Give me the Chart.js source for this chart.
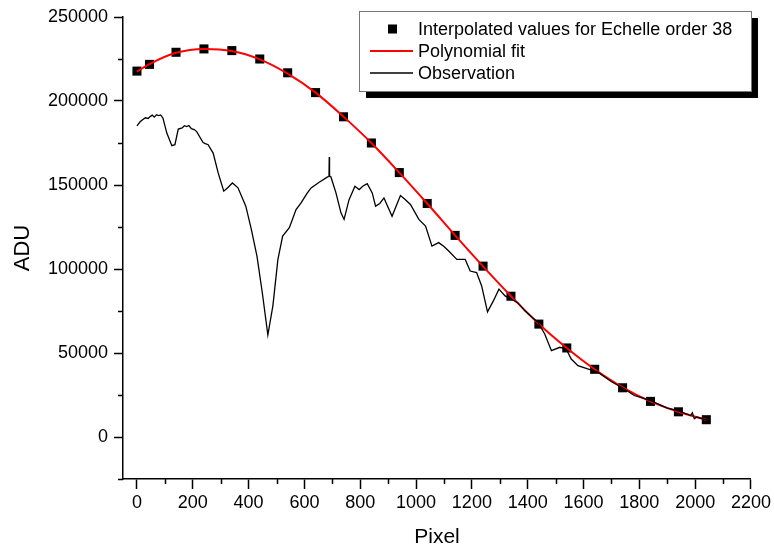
<!DOCTYPE html>
<html lang="en">
<head>
  <meta charset="utf-8">
  <title>Echelle order 38</title>
  <script src="https://cdn.jsdelivr.net/npm/chart.js@4.4.0/dist/chart.umd.min.js"></script>
  <style>
    body { margin: 0; background: #fff; }
  </style>
</head>
<body>
<canvas id="chart" width="774" height="554"></canvas>
<script>
// interpolated points (squares)
const sqX = [0, 45, 140, 240, 340, 440, 540, 640, 740, 840, 940, 1040, 1140, 1240, 1340, 1440, 1540, 1640, 1740, 1840, 1940, 2040];
const sqY = [217800, 221800, 229000, 231000, 230000, 225000, 216800, 205000, 190600, 175000, 157400, 139000, 120000, 101700, 83800, 67200, 53000, 40300, 29300, 21200, 15000, 10300];

// polynomial fit
const fitX = [0, 45, 140, 240, 340, 440, 540, 640, 740, 840, 940, 1040, 1140, 1240, 1340, 1440, 1540, 1640, 1740, 1840, 1940, 2045];
const fitY = [217500, 222000, 228700, 231000, 229800, 224800, 216300, 205000, 190700, 175000, 157400, 139000, 120000, 101600, 83900, 67300, 53000, 40300, 29600, 21200, 15000, 10000];

// observed spectrum
const obsX = [0, 12, 30, 40, 47, 55, 62, 70, 77, 85, 93, 107, 125, 136, 148, 162, 170, 178, 186, 195, 205, 214, 237, 245, 255, 273, 291, 311, 326, 342, 362, 390, 410, 430, 449, 469, 487, 505, 522, 546, 570, 588, 610, 624, 653, 683, 688, 689, 690, 695, 713, 731, 742, 760, 781, 796, 810, 825, 843, 855, 870, 885, 914, 944, 960, 980, 1010, 1034, 1057, 1081, 1100, 1117, 1146, 1176, 1194, 1217, 1235, 1256, 1277, 1297, 1319, 1342, 1365, 1390, 1437, 1461, 1485, 1515, 1538, 1556, 1580, 1615, 1651, 1699, 1746, 1782, 1841, 1900, 1935, 1984, 1990, 1997, 2006, 2036, 2049];
const obsY = [185200, 187800, 190000, 189600, 190700, 191600, 190400, 191800, 191300, 191700, 189800, 180900, 173400, 174000, 183300, 184000, 185300, 184800, 185400, 183500, 183000, 181800, 175300, 174600, 174000, 169000, 157200, 146300, 148500, 151200, 148300, 137400, 123500, 107700, 86000, 60700, 78100, 105700, 119600, 124600, 135400, 139400, 145200, 148300, 151600, 154800, 155000, 166700, 155500, 154800, 145300, 133400, 129500, 141300, 149200, 147300, 149400, 150800, 145300, 137400, 139000, 142300, 131400, 143700, 141500, 138400, 129500, 125500, 113600, 115700, 113400, 110700, 105700, 105700, 98800, 97900, 89900, 74500, 81000, 88000, 84000, 82000, 79800, 75100, 68200, 61300, 51400, 53400, 52400, 46400, 42500, 40500, 38600, 33000, 28600, 24700, 21700, 17200, 15800, 12800, 14400, 10900, 11900, 10400, 9800];

const xTicks = [0, 200, 400, 600, 800, 1000, 1200, 1400, 1600, 1800, 2000, 2200];
const xMinor = [100, 300, 500, 700, 900, 1100, 1300, 1500, 1700, 1900, 2100];
const yTicks = [0, 50000, 100000, 150000, 200000, 250000];
const yMinor = [-25000, 25000, 75000, 125000, 175000, 225000];

const labels = ['Interpolated values for Echelle order 38', 'Polynomial fit', 'Observation'];

function pts(xs, ys) {
  return xs.map(function (x, i) { return { x: x, y: ys[i] }; });
}

const FONT = 'Liberation Sans, Arial, sans-serif';

// minor tick marks, drawn from the scales
const minorTicks = {
  id: 'minorTicks',
  afterDraw(chart) {
    const ctx = chart.ctx, xs = chart.scales.x, ys = chart.scales.y;
    ctx.save();
    ctx.strokeStyle = '#000';
    ctx.lineWidth = 1.5;
    ctx.beginPath();
    xMinor.forEach(function (v) {
      const p = Math.round(xs.getPixelForValue(v)) + 0.5;
      ctx.moveTo(p, xs.top);
      ctx.lineTo(p, xs.top + 5);
    });
    yMinor.forEach(function (v) {
      const p = Math.round(ys.getPixelForValue(v)) + 0.5;
      ctx.moveTo(ys.right, p);
      ctx.lineTo(ys.right - 5, p);
    });
    ctx.stroke();
    ctx.restore();
  }
};

// boxed legend with drop shadow
const boxLegend = {
  id: 'boxLegend',
  afterDraw(chart) {
    const ctx = chart.ctx;
    const bx = 359, by = 11, bw = 392, bh = 80;
    ctx.save();
    ctx.fillStyle = '#000';
    ctx.fillRect(bx + 7, by + 7, bw, bh);
    ctx.fillStyle = '#fff';
    ctx.fillRect(bx, by, bw, bh);
    ctx.strokeStyle = '#777';
    ctx.lineWidth = 1;
    ctx.strokeRect(bx + 0.5, by + 0.5, bw, bh);

    ctx.font = '18px ' + FONT;
    ctx.textBaseline = 'middle';
    ctx.fillStyle = '#000';
    const rows = [29, 51, 73];
    ctx.fillRect(388, rows[0] - 4.5, 9, 9);
    ctx.strokeStyle = '#ff0000';
    ctx.lineWidth = 2;
    ctx.beginPath(); ctx.moveTo(370, rows[1]); ctx.lineTo(413, rows[1]); ctx.stroke();
    ctx.strokeStyle = '#000';
    ctx.lineWidth = 1.3;
    ctx.beginPath(); ctx.moveTo(370, rows[2]); ctx.lineTo(413, rows[2]); ctx.stroke();
    labels.forEach(function (t, i) {
      ctx.fillText(t, 418, rows[i] + 1);
    });
    ctx.restore();
  }
};

new Chart(document.getElementById('chart'), {
  type: 'scatter',
  data: {
    datasets: [
      {
        label: labels[2],
        data: pts(obsX, obsY),
        showLine: true,
        borderColor: '#000',
        borderWidth: 1.3,
        pointRadius: 0,
        tension: 0,
        order: 0
      },
      {
        label: labels[1],
        data: pts(fitX, fitY),
        showLine: true,
        borderColor: '#ff0000',
        borderWidth: 2,
        pointRadius: 0,
        cubicInterpolationMode: 'monotone',
        order: 1
      },
      {
        label: labels[0],
        data: pts(sqX, sqY),
        pointStyle: 'rect',
        pointRadius: 6.4,
        backgroundColor: '#000',
        borderColor: '#000',
        borderWidth: 0,
        order: 2
      }
    ]
  },
  options: {
    responsive: false,
    animation: false,
    devicePixelRatio: 1,
    layout: { padding: { top: 17, right: 20, left: 0, bottom: 0 } },
    plugins: { legend: { display: false }, tooltip: { enabled: false } },
    scales: {
      x: {
        type: 'linear',
        min: -50,
        max: 2200,
        afterBuildTicks: function (s) { s.ticks = xTicks.map(function (v) { return { value: v }; }); },
        afterFit: function (s) { s.height = 75; },
        ticks: { color: '#000', font: { family: FONT, size: 18 }, padding: 3, maxRotation: 0,
                 callback: function (v) { return String(v); } },
        grid: { drawOnChartArea: false, drawTicks: true, tickLength: 10, tickColor: '#000', tickWidth: 1.5 },
        border: { display: true, color: '#000', width: 1.5 },
        title: { display: true, text: 'Pixel', color: '#000', font: { family: FONT, size: 21 }, padding: { top: 4 } }
      },
      y: {
        type: 'linear',
        min: -25000,
        max: 250000,
        afterBuildTicks: function (s) { s.ticks = yTicks.map(function (v) { return { value: v }; }); },
        afterFit: function (s) { s.width = 123; },
        ticks: { color: '#000', font: { family: FONT, size: 18 }, padding: 6,
                 callback: function (v) { return String(v); } },
        grid: { drawOnChartArea: false, drawTicks: true, tickLength: 9, tickColor: '#000', tickWidth: 1.5 },
        border: { display: true, color: '#000', width: 1.5 },
        title: { display: true, text: 'ADU', color: '#000', font: { family: FONT, size: 22 }, padding: { top: 10, bottom: 4 } }
      }
    }
  },
  plugins: [minorTicks, boxLegend]
});
</script>
</body>
</html>
